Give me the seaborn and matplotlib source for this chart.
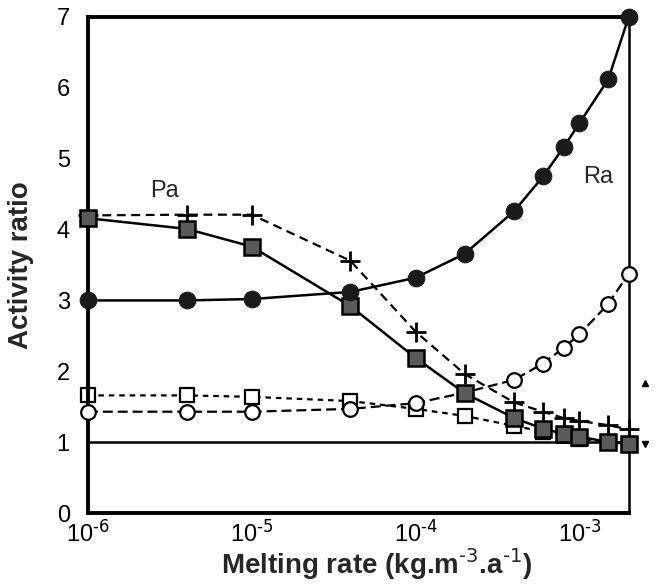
import numpy as np
import pandas as pd
import matplotlib
matplotlib.use("Agg")
import matplotlib.pyplot as plt
import seaborn as sns

# melting rates (kg.m-3.a-1)
rate = [1e-6, 4e-6, 1e-5, 4e-5, 1e-4, 2e-4, 4e-4, 6e-4, 8e-4, 1e-3, 1.5e-3, 2e-3]

# activity ratios
ra_filled = [3.0, 3.0, 3.02, 3.12, 3.32, 3.66, 4.26, 4.75, 5.16, 5.5, 6.12, 7.0]
pa_grey = [4.16, 4.01, 3.76, 2.92, 2.19, 1.69, 1.34, 1.19, 1.12, 1.08, 1.0, 0.98]
pa_cross = [4.2, 4.21, 4.21, 3.56, 2.56, 1.96, 1.56, 1.43, 1.34, 1.3, 1.24, 1.18]
ra_open = [1.43, 1.43, 1.43, 1.47, 1.55, 1.7, 1.88, 2.11, 2.33, 2.52, 2.95, 3.38]
sq_open = [1.66, 1.66, 1.64, 1.58, 1.47, 1.37, 1.23, 1.15, 1.1, 1.05, 1.0, 0.98]

xticks = [1e-6, 1e-5, 1e-4, 1e-3]
xticklabels = [r"10$^{\text{-6}}$", r"10$^{\text{-5}}$", r"10$^{\text{-4}}$", r"10$^{\text{-3}}$"]

df = pd.DataFrame({"rate": rate, "ra_filled": ra_filled, "pa_grey": pa_grey,
                   "pa_cross": pa_cross, "ra_open": ra_open, "sq_open": sq_open})

sns.set_style("white")
plt.rcParams["font.family"] = ["Liberation Sans", "DejaVu Sans"]
plt.rcParams["mathtext.default"] = "regular"

fig = plt.figure(figsize=(6.66, 5.85), dpi=100)
ax = fig.add_axes([0.132, 0.123, 0.812, 0.848])

ax.axhline(1, color="black", lw=1.8, zorder=1)

# open squares, short dashes
sns.lineplot(data=df, x="rate", y="sq_open", ax=ax, color="black", lw=1.6,
             marker="s", markersize=10, markerfacecolor="white",
             markeredgecolor="black", markeredgewidth=1.6, zorder=2)
ax.lines[-1].set_dashes([2.5, 2.2])

# open circles, dashed
sns.lineplot(data=df, x="rate", y="ra_open", ax=ax, color="black", lw=1.6,
             marker="o", markersize=10.5, markerfacecolor="white",
             markeredgecolor="black", markeredgewidth=1.6, zorder=3)
ax.lines[-1].set_dashes([4.5, 2.2])

# crosses, long dashes (first point hidden under the grey square)
sns.lineplot(data=df, x="rate", y="pa_cross", ax=ax, color="black", lw=1.6,
             marker="+", markersize=14, markeredgecolor="black",
             markeredgewidth=2, zorder=4)
ax.lines[-1].set_dashes([4, 2.5])

# grey squares, solid
sns.lineplot(data=df, x="rate", y="pa_grey", ax=ax, color="black", lw=1.8,
             marker="s", markersize=11, markerfacecolor="#5a5a5a",
             markeredgecolor="black", markeredgewidth=1.8, zorder=5)

# filled circles, solid
sns.lineplot(data=df, x="rate", y="ra_filled", ax=ax, color="black", lw=1.8,
             marker="o", markersize=12, markerfacecolor="#1a1a1a",
             markeredgecolor="#1a1a1a", zorder=6)
for ln in ax.lines:
    ln.set_clip_on(False)

# small arrows outside the right axis
ax.plot([2.5e-3], [1.83], marker="^", color="black", ms=4, clip_on=False)
ax.plot([2.5e-3], [0.98], marker="v", color="black", ms=4, clip_on=False)

ax.text(2.4e-6, 4.55, "Pa", fontsize=17, ha="left", va="center")
ax.text(1.06e-3, 4.74, "Ra", fontsize=17, ha="left", va="center")

ax.set_xscale("log")
ax.set_xlim(1e-6, 2e-3)
ax.set_ylim(0, 7)
ax.set_xticks(xticks)
ax.set_xticklabels(xticklabels)
ax.minorticks_off()
ax.set_yticks(range(8))
ax.tick_params(axis="both", direction="in", length=9, width=2, colors="black")
ax.tick_params(axis="y", pad=13, labelsize=17)
ax.tick_params(axis="x", pad=5, labelsize=17)

ax.set_xlabel(r"Melting rate (kg.m$^{\text{-3}}$.a$^{\text{-1}}$)", fontsize=20,
              fontweight="bold", labelpad=0)
ax.xaxis.label.set_x(0.534)
ax.set_ylabel("Activity ratio", fontsize=20, fontweight="bold", labelpad=16)

for side in ["left", "bottom", "top"]:
    ax.spines[side].set_linewidth(2.8)
ax.spines["right"].set_linewidth(1.8)
for sp in ax.spines.values():
    sp.set_color("black")
    sp.set_visible(True)

fig.savefig("out.png", dpi=100)
